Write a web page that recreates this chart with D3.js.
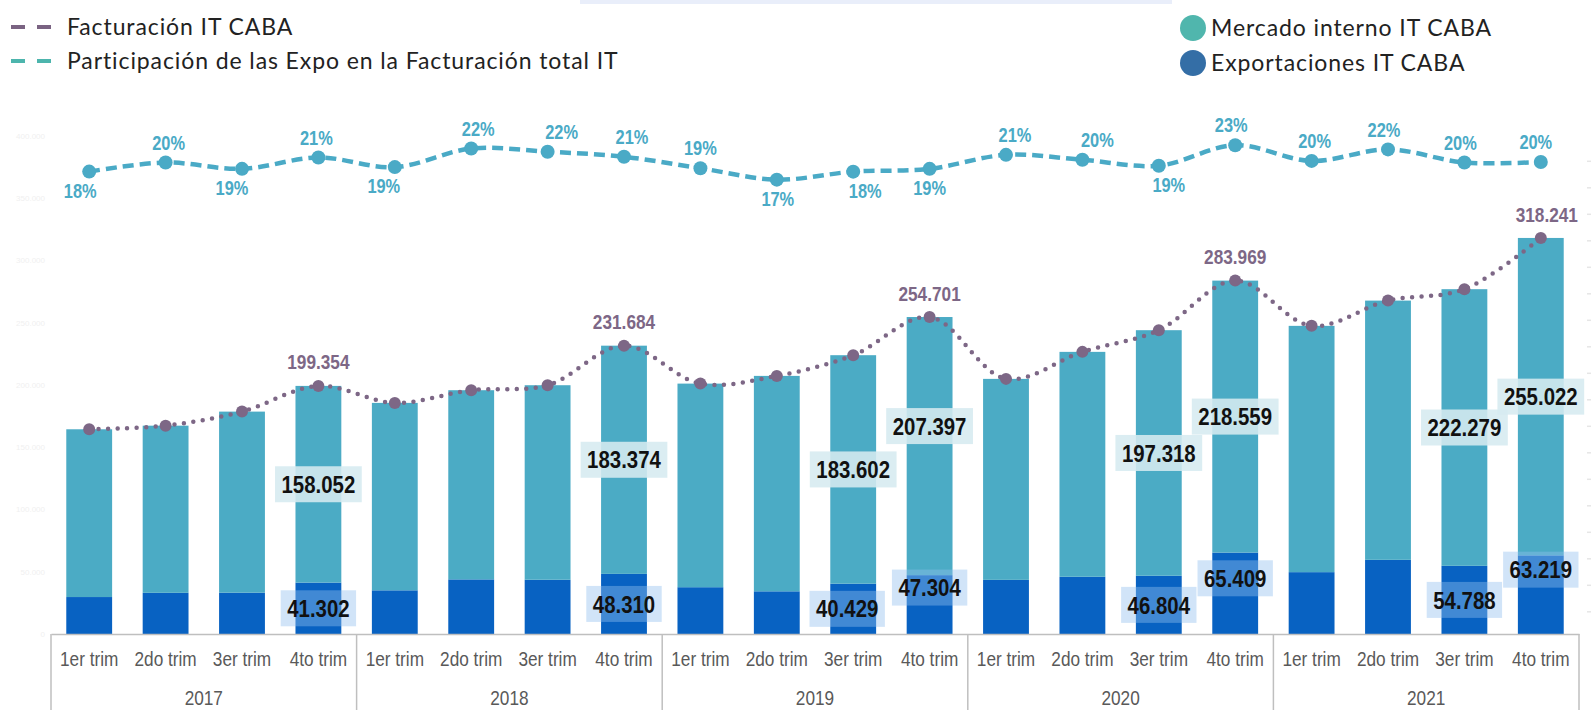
<!DOCTYPE html>
<html lang="es">
<head>
<meta charset="utf-8">
<title>Facturación IT CABA</title>
<script src="https://cdn.jsdelivr.net/npm/d3@7"></script>
<style>
  body { margin: 0; background: #fff; }
  .legend-text { font-family: "Lato", "Open Sans", sans-serif; font-weight: 400; fill: #222; letter-spacing: 0.9px; }
  .narrow { font-family: "Liberation Sans", Arial, sans-serif; }
</style>
</head>
<body>
<div id="wrapper"></div>
<script>
// data (millones de pesos)
const years = ["2017", "2018", "2019", "2020", "2021"];
const quarters = ["1er trim", "2do trim", "3er trim", "4to trim"];
const facturacion = [164500, 167400, 178700, 199354, 185700, 195900, 199900, 231684, 201200, 207400,
  224031, 254701, 205000, 226700, 244122, 283969, 247600, 267900, 277067, 318241];
const mercadoInterno = [134800, 134300, 145500, 158052, 150600, 152000, 156300, 183374, 163600, 173100,
  183602, 207397, 161500, 180700, 197318, 218559, 197900, 208300, 222279, 255022];
const exportaciones = [29700, 33100, 33200, 41302, 35100, 43900, 43600, 48310, 37600, 34300,
  40429, 47304, 43500, 46000, 46804, 65409, 49700, 59600, 54788, 63219];
const yTickValues = [0, 50000, 100000, 150000, 200000, 250000, 300000, 350000, 400000];
const pctTickValues = [-0.65, -0.6, -0.55, -0.5, -0.45, -0.4, -0.35, -0.3, -0.25, -0.2, -0.15,
  -0.1, -0.05, 0, 0.05, 0.1, 0.15, 0.2];

// which marks carry labels
const labeledBars = [3, 7, 10, 11, 14, 15, 18, 19];
const labeledTotals = [3, 7, 11, 15, 19];

// squeeze Liberation Sans into an Arial Narrow look
function condense(selection, factor = 0.82) {
  selection.each(function () {
    const len = this.getComputedTextLength();
    d3.select(this).attr("textLength", len * factor).attr("lengthAdjust", "spacingAndGlyphs");
  });
}

function drawChart() {
  const dimensions = { width: 1592, height: 710, baseline: 634, left: 51, right: 1579 };

  const svg = d3.select("#wrapper").append("svg")
    .attr("width", dimensions.width)
    .attr("height", dimensions.height);

  const table = d3.range(facturacion.length).map((i) => ({
    i,
    year: years[Math.floor(i / 4)],
    quarter: quarters[i % 4],
    total: facturacion[i],
    interno: mercadoInterno[i],
    expo: exportaciones[i],
    share: exportaciones[i] / facturacion[i],
  }));

  // scales
  const x = d3.scaleBand()
    .domain(table.map((d) => d.i))
    .range([dimensions.left, dimensions.right])
    .paddingInner(0.4)
    .paddingOuter(0.2);
  const xYear = d3.scaleBand().domain(years).range([dimensions.left, dimensions.right]);
  const y = d3.scaleLinear().domain([0, 400000]).range([dimensions.baseline, 136.2]);
  const yPct = d3.scaleLinear().domain([-0.7, 0.25]).range([638.3, 134.8]);
  const cx = (d) => x(d.i) + x.bandwidth() / 2;
  const fmtNum = (v) => d3.format(",")(v).replace(/,/g, ".");
  const fmtPct = d3.format(".0%");

  // faint header strip
  svg.append("rect").attr("x", 580).attr("y", 0).attr("width", 592).attr("height", 4).attr("fill", "#e9eefa");

  // faint axes (almost invisible in the original)
  svg.append("g").selectAll("text").data(yTickValues).join("text")
    .attr("x", 45).attr("y", (d) => y(d)).attr("dy", "0.35em")
    .attr("text-anchor", "end").attr("font-size", 8).attr("font-family", "Liberation Sans")
    .attr("fill", "#f0f0f0").text((d) => fmtNum(d));
  svg.append("g").selectAll("line").data(pctTickValues).join("line")
    .attr("x1", 1587).attr("x2", 1591)
    .attr("y1", (d) => yPct(d)).attr("y2", (d) => yPct(d))
    .attr("stroke", "#e6e6e6").attr("stroke-width", 1.5);

  // stacked bars
  const stacked = d3.stack().keys(["expo", "interno"])(table);
  const colors = { expo: "#0862c2", interno: "#4babc5" };
  svg.append("g").selectAll("g").data(stacked).join("g")
    .attr("fill", (s) => colors[s.key])
    .selectAll("rect").data((s) => s).join("rect")
    .attr("x", (d) => x(d.data.i))
    .attr("width", x.bandwidth())
    .attr("y", (d) => y(d[1]))
    .attr("height", (d) => y(d[0]) - y(d[1]));

  // category axis (quarters + years in boxes)
  const axisG = svg.append("g")
    .attr("transform", `translate(0,${dimensions.baseline})`)
    .call(d3.axisBottom(x).tickSize(0).tickPadding(17).tickFormat((i) => quarters[i % 4]));
  axisG.select(".domain").attr("stroke", "#bfbfbf").attr("stroke-width", 1.5);
  axisG.selectAll("text").attr("class", "narrow").attr("font-size", 21).attr("fill", "#595959")
    .call(condense);

  const bounds = years.map((yr) => xYear(yr)).concat([dimensions.right]);
  svg.append("g").selectAll("line").data(bounds).join("line")
    .attr("x1", (d) => d).attr("x2", (d) => d)
    .attr("y1", dimensions.baseline).attr("y2", dimensions.height)
    .attr("stroke", "#bfbfbf").attr("stroke-width", 1.5);
  svg.append("g").selectAll("text").data(years).join("text")
    .attr("class", "narrow")
    .attr("x", (d) => xYear(d) + xYear.bandwidth() / 2)
    .attr("y", 705).attr("text-anchor", "middle")
    .attr("font-size", 21).attr("fill", "#595959")
    .text((d) => d)
    .call(condense);

  // value labels with boxes
  const internalDy = { 11: -20 };
  const exportDy = { 11: -17, 15: -15, 19: -25 };
  const exportDx = { 10: -6 };
  function boxedLabel(g, d, value, cyPos, dx, boxFill, boxOpacity) {
    const grp = g.append("g").attr("transform", `translate(${cx(d) + dx},${cyPos})`);
    const rect = grp.append("rect").attr("fill", boxFill).attr("opacity", boxOpacity);
    const t = grp.append("text")
      .attr("class", "narrow")
      .attr("text-anchor", "middle")
      .attr("dy", "0.36em")
      .attr("font-size", 24).attr("font-weight", "bold").attr("fill", "#111")
      .text(fmtNum(value));
    const len = t.node().getComputedTextLength() * 0.85;
    t.attr("textLength", len).attr("lengthAdjust", "spacingAndGlyphs");
    const w = len + 13;
    rect.attr("x", -w / 2).attr("y", -18).attr("width", w).attr("height", 36);
  }
  const labelG = svg.append("g");
  labeledBars.forEach((i) => {
    const d = table[i];
    const midInt = (y(d.expo) + y(d.total)) / 2 + (internalDy[i] || 0);
    boxedLabel(labelG, d, d.interno, midInt, 0, "#d6eaf0", 0.88);
    const midExp = (y(0) + y(d.expo)) / 2 + (exportDy[i] || 0);
    boxedLabel(labelG, d, d.expo, midExp, exportDx[i] || 0, "rgb(145,190,238)", 0.42);
  });

  // Facturación IT CABA: dotted line
  const purple = "#7d6786";
  svg.append("path").datum(table)
    .attr("fill", "none").attr("stroke", purple).attr("stroke-width", 4.5)
    .attr("stroke-linecap", "round").attr("stroke-dasharray", "0 9.5")
    .attr("d", d3.line().x(cx).y((d) => y(d.total)).curve(d3.curveCatmullRom.alpha(0.5)));
  svg.append("g").selectAll("circle").data(table).join("circle")
    .attr("cx", cx).attr("cy", (d) => y(d.total)).attr("r", 6).attr("fill", purple);
  const totalDx = { 19: 6 };
  svg.append("g").selectAll("text").data(labeledTotals.map((i) => table[i])).join("text")
    .attr("class", "narrow")
    .attr("x", (d) => cx(d) + (totalDx[d.i] || 0))
    .attr("y", (d) => y(d.total) - 24).attr("dy", "0.36em")
    .attr("text-anchor", "middle").attr("font-size", 21).attr("font-weight", "bold")
    .attr("fill", purple).text((d) => fmtNum(d.total))
    .call(condense);

  // Participación de las Expo: dashed line
  const teal = "#4aaac6";
  svg.append("path").datum(table)
    .attr("fill", "none").attr("stroke", teal).attr("stroke-width", 4.5)
    .attr("stroke-dasharray", "11 6")
    .attr("d", d3.line().x(cx).y((d) => yPct(d.share)).curve(d3.curveCatmullRom.alpha(0.5)));
  svg.append("g").selectAll("circle").data(table).join("circle")
    .attr("cx", cx).attr("cy", (d) => yPct(d.share)).attr("r", 7).attr("fill", teal);
  const pctSide = [-1, 1, -1, 1, -1, 1, 1, 1, 1, -1, -1, -1, 1, 1, -1, 1, 1, 1, 1, 1];
  const pctDx = [-9, 3, -10, -2, -11, 7, 14, 8, 0, 1, 12, 0, 9, 15, 10, -4, 3, -4, -4, -5];
  svg.append("g").selectAll("text").data(table).join("text")
    .attr("class", "narrow")
    .attr("x", (d) => cx(d) + pctDx[d.i])
    .attr("y", (d) => yPct(d.share) + (pctSide[d.i] > 0 ? -20 : 19)).attr("dy", "0.36em")
    .attr("text-anchor", "middle").attr("font-size", 20).attr("font-weight", "bold")
    .attr("fill", teal).text((d) => fmtPct(d.share))
    .call(condense);

  // legends
  const lineLegend = [
    { label: "Facturación IT CABA", color: "#7a6382", y: 27 },
    { label: "Participación de las Expo en la Facturación total IT", color: "#4db5ad", y: 61 },
  ];
  const ll = svg.append("g").selectAll("g").data(lineLegend).join("g")
    .attr("transform", (d) => `translate(0,${d.y})`);
  ll.append("line").attr("x1", 11).attr("x2", 51).attr("stroke", (d) => d.color)
    .attr("stroke-width", 4).attr("stroke-dasharray", "14 12");
  ll.append("text").attr("class", "legend-text").attr("x", 67).attr("dy", "0.36em")
    .attr("font-size", 23).text((d) => d.label);

  const dotLegend = [
    { label: "Mercado interno IT CABA", color: "#50b6ad", y: 28 },
    { label: "Exportaciones IT CABA", color: "#346ea6", y: 63 },
  ];
  const dl = svg.append("g").selectAll("g").data(dotLegend).join("g")
    .attr("transform", (d) => `translate(1193,${d.y})`);
  dl.append("circle").attr("r", 13).attr("fill", (d) => d.color);
  dl.append("text").attr("class", "legend-text").attr("x", 18).attr("dy", "0.36em")
    .attr("font-size", 23).text((d) => d.label);
}
drawChart();
</script>
</body>
</html>
